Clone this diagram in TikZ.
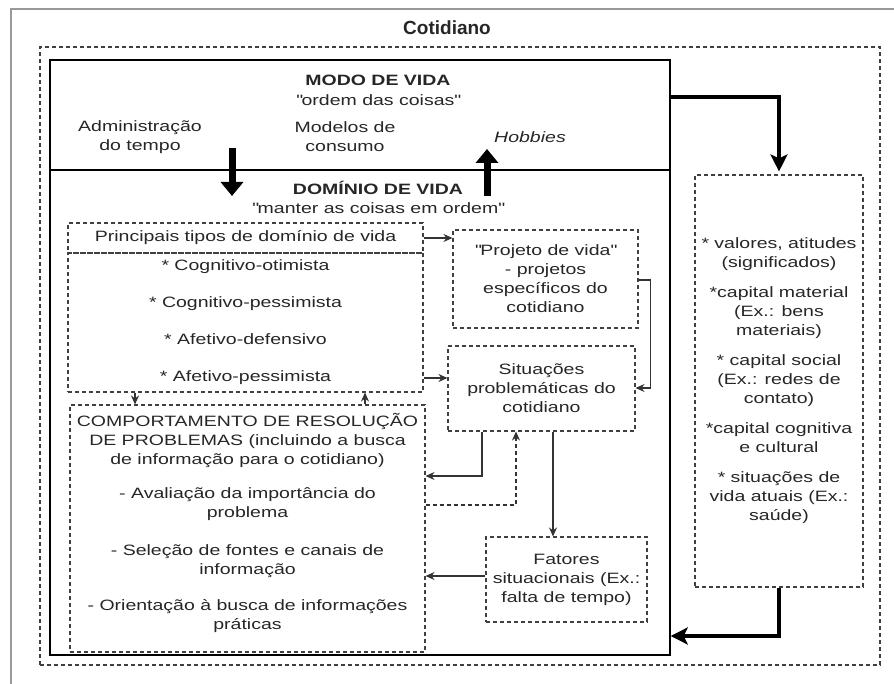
\documentclass[tikz,border=0pt]{standalone}
\usepackage{fontspec}
\setmainfont{Liberation Sans}[FakeStretch=1.3]
\newfontfamily\titlefont{Liberation Sans}
\usetikzlibrary{arrows.meta,positioning}

\tikzset{
    dotbox/.style={draw=black!75, line width=1.1pt, dash pattern=on 4pt off 3pt, align=center, inner sep=2pt},
    seta/.style={draw=black!80, line width=1.2pt, -{Stealth[length=9pt, width=8pt]}},
    setagrossa/.style={line width=3.5pt, -{Stealth[length=17pt, width=17pt, inset=4pt]}},
    blocoseta/.style={line width=7pt, -{Triangle[length=14pt, width=22pt]}},
}
\newcommand\aspas{\textquotedbl}

\begin{document}
\fontsize{15}{19}\selectfont
\begin{tikzpicture}[x=1pt, y=-1pt, text=black!85]
        \useasboundingbox (0,0) rectangle (894,684);

        % 1. Frames
        \draw[line width=2.5pt, black!40] (11,684) -- (11,9) -- (894,9);
        \node[font=\titlefont\bfseries\fontsize{19}{22}\selectfont] (titulo) at (447,28) {Cotidiano};
        \node[dotbox, minimum width=840pt, minimum height=618pt] (cotidiano) at (460,356) {};
        \node[draw, line width=1.4pt, minimum width=620pt, minimum height=595pt] (vida) at (360,357.5) {};
        \draw[line width=1.2pt] (vida.west |- 0,170) -- (vida.east |- 0,170);

        % 2. Modo de vida (top part)
        \node[font=\bfseries] (modo) at (378,80) {MODO DE VIDA};
        \node (ordem) at (378,100) {\aspas ordem das coisas\aspas};
        \node[align=center] (admin) at (140,137) {Administração\\do tempo};
        \node[align=center] (modelos) at (345,137) {Modelos de\\consumo};
        \node[font=\itshape] (hobbies) at (530,137) {Hobbies};

        % the two block arrows across the line
        \coordinate (descA) at (232,148);
        \coordinate (descB) at (232,196);
        \coordinate (sobeA) at (487,196);
        \coordinate (sobeB) at (487,149);
        \draw[blocoseta] (descA) -- (descB);
        \draw[blocoseta] (sobeA) -- (sobeB);

        % 3. Dominio de vida (lower part)
        \node[font=\bfseries] (dominio) at (378,188) {DOMÍNIO DE VIDA};
        \node (manter) at (378,208) {\aspas manter as coisas em ordem\aspas};

        \node[dotbox, minimum width=355pt, minimum height=30pt] (tipos) at (245.5,238) {Principais tipos de domínio de vida};
        \node[dotbox, minimum width=355pt, minimum height=139pt] (lista) at (245.5,322.5)
            {* Cognitivo-otimista\\[18pt]* Cognitivo-pessimista\\[18pt]* Afetivo-defensivo\\[18pt]* Afetivo-pessimista};

        \node[dotbox, minimum width=185pt, minimum height=98pt] (projeto) at (545.5,279)
            {\aspas Projeto de vida\aspas\\- projetos\\específicos do\\cotidiano};
        \node[dotbox, minimum width=187pt, minimum height=85pt] (situacoes) at (541.5,388.5)
            {Situações\\problemáticas do\\cotidiano};

        \node[dotbox, minimum width=355pt, minimum height=247pt] (comport) at (247.5,528.5) {};
        \node[align=center, anchor=north] (comporttxt) at (247.5,408)
            {COMPORTAMENTO DE RESOLUÇÃO\\DE PROBLEMAS (incluindo a busca\\de informação para o cotidiano)\\[15pt]
             - Avaliação da importância do\\problema\\[19pt]
             - Seleção de fontes e canais de\\informação\\[17pt]
             - Orientação à busca de informações\\práticas};

        \node[dotbox, minimum width=161pt, minimum height=85pt] (fatores) at (566.5,579.5)
            {Fatores\\situacionais (Ex.:\\falta de tempo)};

        % 4. Right box
        \node[dotbox, minimum width=168pt, minimum height=412pt] (recursos) at (779,381)
            {* valores, atitudes\\(significados)\\[11pt]
             *capital material\\(Ex.: bens\\materiais)\\[11pt]
             * capital social\\(Ex.: redes de\\contato)\\[11pt]
             *capital cognitiva\\e cultural\\[11pt]
             * situações de\\vida atuais (Ex.:\\saúde)};

        % 5. Connectors
        \begin{scope}
            \draw[seta] (tipos.east) -- (tipos.east -| projeto.west);
            \draw[seta] (lista.east |- 0,378) -- (situacoes.west |- 0,378);
            \draw[seta] (projeto.east |- 0,280) -- ++(12,0) |- (situacoes.east |- 0,388);

            \draw[seta] (lista.south -| 135,0) -- (comport.north -| 135,0);
            \draw[seta] (comport.north -| 365,0) -- (lista.south -| 365,0);

            \draw[seta] (situacoes.south -| 482,0) |- (comport.east |- 0,476);
            \draw[seta, dash pattern=on 4pt off 3pt] (comport.east |- 0,505) -| (situacoes.south -| 516,0);
            \draw[seta] (situacoes.south -| 553,0) -- (fatores.north -| 553,0);
            \draw[seta] (fatores.west |- 0,576) -- (comport.east |- 0,576);

            % thick ones to and from the right box
            \draw[setagrossa, shorten >=3pt] (vida.east |- 0,97) -| (recursos.north);
            \draw[setagrossa] (recursos.south) |- (vida.east |- 0,636);
        \end{scope}

    \end{tikzpicture}
\end{document}
